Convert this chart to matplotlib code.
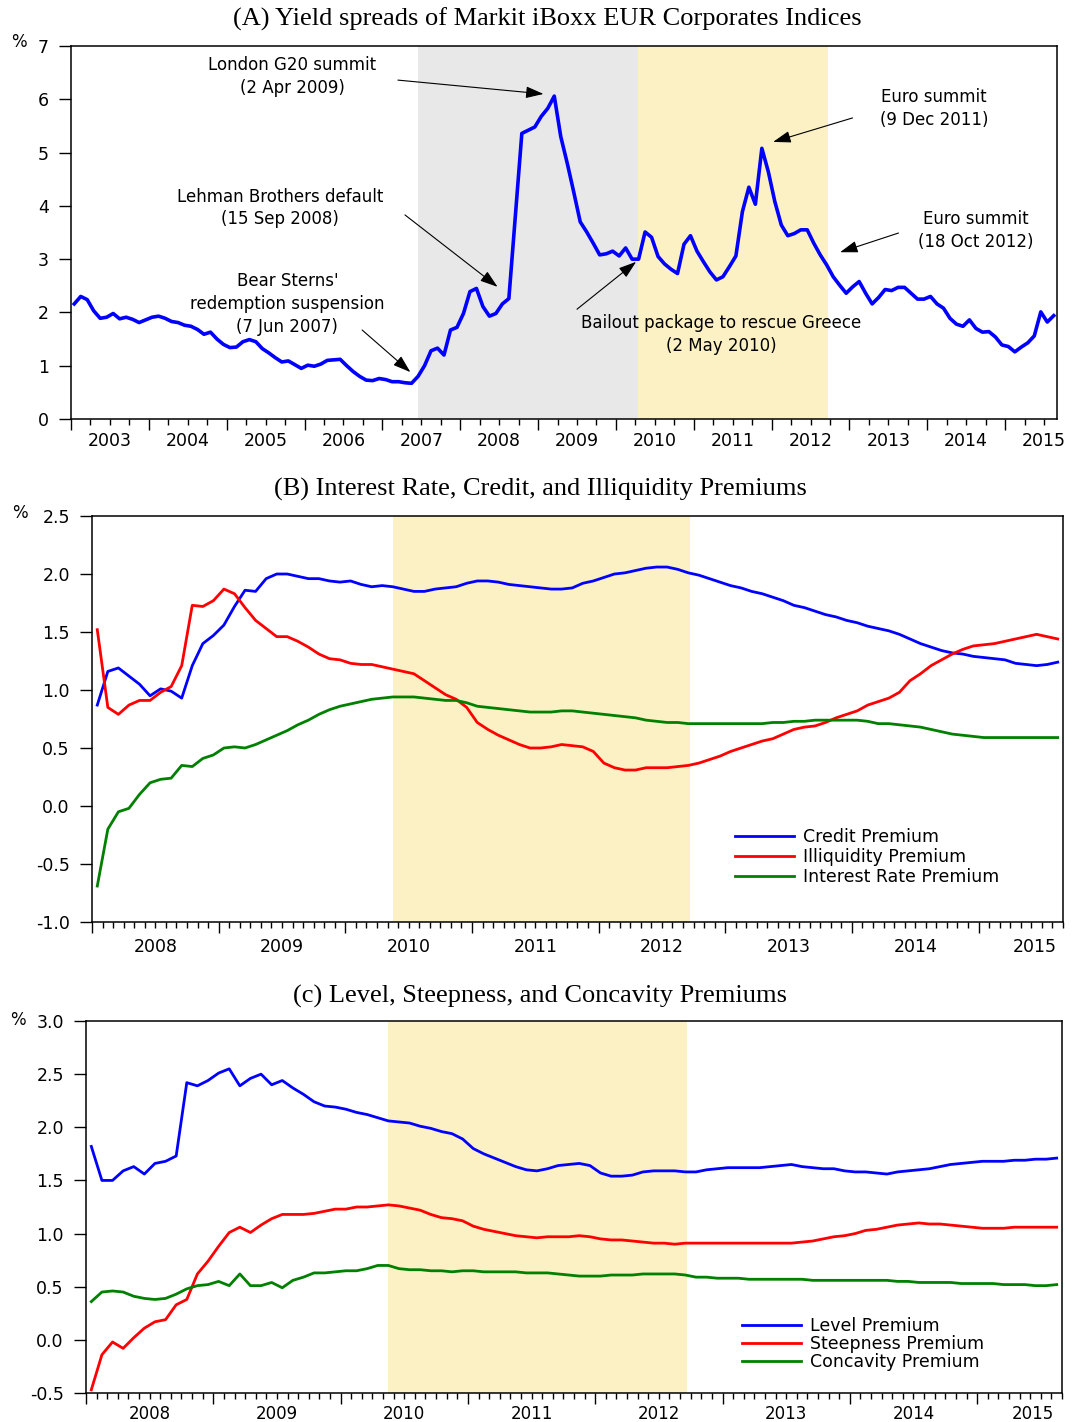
import numpy as np
import pandas as pd
import matplotlib.pyplot as plt
from matplotlib.ticker import FormatStrFormatter

plt.rcParams["font.family"] = "DejaVu Sans"
plt.rcParams["axes.unicode_minus"] = False

# ---- data (monthly) ----
months_a = pd.period_range("2003-01", "2015-08", freq="M")
spread = [2.16, 2.30, 2.24, 2.03, 1.89, 1.91, 1.98, 1.88, 1.91, 1.87, 1.81, 1.86,
          1.91, 1.93, 1.89, 1.83, 1.81, 1.76, 1.74, 1.68, 1.59, 1.63, 1.50, 1.40,
          1.34, 1.35, 1.45, 1.49, 1.45, 1.32, 1.24, 1.15, 1.07, 1.09, 1.02, 0.95,
          1.01, 0.99, 1.03, 1.10, 1.11, 1.12, 1.00, 0.89, 0.80, 0.73, 0.72, 0.76,
          0.74, 0.70, 0.70, 0.68, 0.67, 0.80, 1.00, 1.28, 1.33, 1.20, 1.67, 1.72,
          1.98, 2.39, 2.45, 2.11, 1.93, 1.98, 2.16, 2.26, 3.80, 5.36, 5.42, 5.48,
          5.68, 5.83, 6.06, 5.30, 4.80, 4.26, 3.70, 3.51, 3.30, 3.08, 3.10, 3.15,
          3.06, 3.21, 3.00, 3.00, 3.51, 3.41, 3.05, 2.91, 2.81, 2.73, 3.28, 3.44,
          3.15, 2.95, 2.76, 2.61, 2.67, 2.86, 3.06, 3.89, 4.35, 4.03, 5.08, 4.64,
          4.08, 3.64, 3.44, 3.48, 3.55, 3.55, 3.30, 3.08, 2.89, 2.67, 2.51, 2.36,
          2.48, 2.58, 2.36, 2.16, 2.28, 2.43, 2.41, 2.47, 2.47, 2.36, 2.25, 2.25,
          2.30, 2.16, 2.08, 1.89, 1.78, 1.74, 1.86, 1.70, 1.63, 1.64, 1.54, 1.39,
          1.36, 1.26, 1.35, 1.43, 1.56, 2.01, 1.82, 1.94]

months_b = pd.period_range("2008-01", "2015-08", freq="M")
credit = [0.87, 1.16, 1.19, 1.12, 1.05, 0.95, 1.01, 0.99, 0.93, 1.21, 1.40, 1.47,
          1.56, 1.72, 1.86, 1.85, 1.96, 2.00, 2.00, 1.98, 1.96, 1.96, 1.94, 1.93,
          1.94, 1.91, 1.89, 1.90, 1.89, 1.87, 1.85, 1.85, 1.87, 1.88, 1.89, 1.92,
          1.94, 1.94, 1.93, 1.91, 1.90, 1.89, 1.88, 1.87, 1.87, 1.88, 1.92, 1.94,
          1.97, 2.00, 2.01, 2.03, 2.05, 2.06, 2.06, 2.04, 2.01, 1.99, 1.96, 1.93,
          1.90, 1.88, 1.85, 1.83, 1.80, 1.77, 1.73, 1.71, 1.68, 1.65, 1.63, 1.60,
          1.58, 1.55, 1.53, 1.51, 1.48, 1.44, 1.40, 1.37, 1.34, 1.32, 1.31, 1.29,
          1.28, 1.27, 1.26, 1.23, 1.22, 1.21, 1.22, 1.24]
illiquidity = [1.52, 0.85, 0.79, 0.87, 0.91, 0.91, 0.98, 1.03, 1.21, 1.73, 1.72, 1.77,
               1.87, 1.83, 1.71, 1.60, 1.53, 1.46, 1.46, 1.42, 1.37, 1.31, 1.27, 1.26,
               1.23, 1.22, 1.22, 1.20, 1.18, 1.16, 1.14, 1.08, 1.02, 0.96, 0.92, 0.85,
               0.72, 0.66, 0.61, 0.57, 0.53, 0.50, 0.50, 0.51, 0.53, 0.52, 0.51, 0.47,
               0.37, 0.33, 0.31, 0.31, 0.33, 0.33, 0.33, 0.34, 0.35, 0.37, 0.40, 0.43,
               0.47, 0.50, 0.53, 0.56, 0.58, 0.62, 0.66, 0.68, 0.69, 0.72, 0.76, 0.79,
               0.82, 0.87, 0.90, 0.93, 0.98, 1.08, 1.14, 1.21, 1.26, 1.31, 1.35, 1.38,
               1.39, 1.40, 1.42, 1.44, 1.46, 1.48, 1.46, 1.44]
interest = [-0.69, -0.20, -0.05, -0.02, 0.10, 0.20, 0.23, 0.24, 0.35, 0.34, 0.41, 0.44,
            0.50, 0.51, 0.50, 0.53, 0.57, 0.61, 0.65, 0.70, 0.74, 0.79, 0.83, 0.86,
            0.88, 0.90, 0.92, 0.93, 0.94, 0.94, 0.94, 0.93, 0.92, 0.91, 0.91, 0.89,
            0.86, 0.85, 0.84, 0.83, 0.82, 0.81, 0.81, 0.81, 0.82, 0.82, 0.81, 0.80,
            0.79, 0.78, 0.77, 0.76, 0.74, 0.73, 0.72, 0.72, 0.71, 0.71, 0.71, 0.71,
            0.71, 0.71, 0.71, 0.71, 0.72, 0.72, 0.73, 0.73, 0.74, 0.74, 0.74, 0.74,
            0.74, 0.73, 0.71, 0.71, 0.70, 0.69, 0.68, 0.66, 0.64, 0.62, 0.61, 0.60,
            0.59, 0.59, 0.59, 0.59, 0.59, 0.59, 0.59, 0.59]

level = [1.82, 1.50, 1.50, 1.59, 1.63, 1.56, 1.66, 1.68, 1.73, 2.42, 2.39, 2.44,
         2.51, 2.55, 2.39, 2.46, 2.50, 2.40, 2.44, 2.37, 2.31, 2.24, 2.20, 2.19,
         2.17, 2.14, 2.12, 2.09, 2.06, 2.05, 2.04, 2.01, 1.99, 1.96, 1.94, 1.89,
         1.80, 1.75, 1.71, 1.67, 1.63, 1.60, 1.59, 1.61, 1.64, 1.65, 1.66, 1.64,
         1.57, 1.54, 1.54, 1.55, 1.58, 1.59, 1.59, 1.59, 1.58, 1.58, 1.60, 1.61,
         1.62, 1.62, 1.62, 1.62, 1.63, 1.64, 1.65, 1.63, 1.62, 1.61, 1.61, 1.59,
         1.58, 1.58, 1.57, 1.56, 1.58, 1.59, 1.60, 1.61, 1.63, 1.65, 1.66, 1.67,
         1.68, 1.68, 1.68, 1.69, 1.69, 1.70, 1.70, 1.71]
steepness = [-0.47, -0.14, -0.02, -0.08, 0.02, 0.11, 0.17, 0.19, 0.33, 0.38, 0.62, 0.74,
             0.88, 1.01, 1.06, 1.01, 1.08, 1.14, 1.18, 1.18, 1.18, 1.19, 1.21, 1.23,
             1.23, 1.25, 1.25, 1.26, 1.27, 1.26, 1.24, 1.22, 1.18, 1.15, 1.14, 1.12,
             1.07, 1.04, 1.02, 1.00, 0.98, 0.97, 0.96, 0.97, 0.97, 0.97, 0.98, 0.97,
             0.95, 0.94, 0.94, 0.93, 0.92, 0.91, 0.91, 0.90, 0.91, 0.91, 0.91, 0.91,
             0.91, 0.91, 0.91, 0.91, 0.91, 0.91, 0.91, 0.92, 0.93, 0.95, 0.97, 0.98,
             1.00, 1.03, 1.04, 1.06, 1.08, 1.09, 1.10, 1.09, 1.09, 1.08, 1.07, 1.06,
             1.05, 1.05, 1.05, 1.06, 1.06, 1.06, 1.06, 1.06]
concavity = [0.36, 0.45, 0.46, 0.45, 0.41, 0.39, 0.38, 0.39, 0.43, 0.48, 0.51, 0.52,
             0.55, 0.51, 0.62, 0.51, 0.51, 0.54, 0.49, 0.56, 0.59, 0.63, 0.63, 0.64,
             0.65, 0.65, 0.67, 0.70, 0.70, 0.67, 0.66, 0.66, 0.65, 0.65, 0.64, 0.65,
             0.65, 0.64, 0.64, 0.64, 0.64, 0.63, 0.63, 0.63, 0.62, 0.61, 0.60, 0.60,
             0.60, 0.61, 0.61, 0.61, 0.62, 0.62, 0.62, 0.62, 0.61, 0.59, 0.59, 0.58,
             0.58, 0.58, 0.57, 0.57, 0.57, 0.57, 0.57, 0.57, 0.56, 0.56, 0.56, 0.56,
             0.56, 0.56, 0.56, 0.56, 0.55, 0.55, 0.54, 0.54, 0.54, 0.54, 0.53, 0.53,
             0.53, 0.53, 0.52, 0.52, 0.52, 0.51, 0.51, 0.52]

# shaded periods (decimal years)
grey_a = (2007.46, 2010.29)
yellow_a = (2010.29, 2012.73)
yellow_bc = (2010.375, 2012.72)

# annotations for panel A: text, text pos, arrow tail, arrow head
events = [
    ("London G20 summit\n(2 Apr 2009)", (2005.84, 6.43), (2007.20, 6.36), (2009.07, 6.10)),
    ("Euro summit\n(9 Dec 2011)", (2014.09, 5.83), (2013.04, 5.65), (2012.02, 5.20)),
    ("Lehman Brothers default\n(15 Sep 2008)", (2005.69, 3.96), (2007.29, 3.83), (2008.48, 2.48)),
    ("Euro summit\n(18 Oct 2012)", (2014.62, 3.53), (2013.63, 3.49), (2012.88, 3.13)),
    ("Bear Sterns'\nredemption suspension\n(7 Jun 2007)", (2005.78, 2.16), (2006.74, 1.67), (2007.36, 0.88)),
    ("Bailout package to rescue Greece\n(2 May 2010)", (2011.35, 1.59), (2009.50, 2.06), (2010.26, 2.95)),
]

BLUE, RED, GREEN = "#0000FF", "#FF0000", "#008000"


def dec_year(periods):
    return np.array([p.year + (p.month - 0.5) / 12 for p in periods])


W, H = 1074, 1422
fig = plt.figure(figsize=(W / 100, H / 100), dpi=100)


def add_ax(l, t, r, b):
    return fig.add_axes([l / W, 1 - b / H, (r - l) / W, (b - t) / H])


def style(ax, x0, n_months, ylim, ystep, fmt, minor, lab_off, last_shift=0.0, labsize=12.5):
    x1 = x0 + n_months / 12
    ax.set_xlim(x0, x1)
    ax.set_ylim(*ylim)
    ax.set_yticks(np.arange(ylim[0], ylim[1] + 1e-9, ystep))
    ax.yaxis.set_major_formatter(FormatStrFormatter(fmt))
    years = np.arange(x0, x1)
    ax.set_xticks(years)
    ax.set_xticks(np.arange(x0, x1, minor), minor=True)
    ax.tick_params(axis="x", which="major", direction="out", length=8, width=1.0,
                   labelbottom=False)
    ax.tick_params(axis="x", which="minor", direction="out", length=4, width=1.0)
    ax.tick_params(axis="y", direction="out", length=9, width=1.0, pad=7, labelsize=12.5)
    for s in ax.spines.values():
        s.set_linewidth(1.1)
    for i, y in enumerate(years):
        xpos = y + 0.5 - (last_shift if i == len(years) - 1 else 0)
        ax.annotate(str(int(y)), (xpos, 0), xycoords=("data", "axes fraction"),
                    xytext=(0, -lab_off), textcoords="offset points",
                    ha="center", va="top", fontsize=labsize)


# ---- panel A ----
axA = add_ax(71, 46, 1057, 419)
axA.axvspan(*grey_a, color="#E8E8E8", lw=0)
axA.axvspan(*yellow_a, color="#FCF1C4", lw=0)
axA.plot(dec_year(months_a), spread, color=BLUE, lw=2.6)
style(axA, 2003, len(months_a), (0, 7), 1, "%d", 0.25, 9.5)
for txt, tpos, tail, head in events:
    axA.text(*tpos, txt, ha="center", va="center", fontsize=12, linespacing=1.35)
    axA.annotate("", xy=head, xytext=tail,
                 arrowprops=dict(arrowstyle="-|>,head_length=0.9,head_width=0.3",
                                 color="black", lw=0.8, shrinkA=0, shrinkB=0,
                                 mutation_scale=12))

# ---- panel B ----
axB = add_ax(92, 516, 1063, 922)
axB.axvspan(*yellow_bc, color="#FCF1C4", lw=0)
xb = dec_year(months_b)
axB.plot(xb, credit, color=BLUE, lw=2.0, label="Credit Premium")
axB.plot(xb, illiquidity, color=RED, lw=2.0, label="Illiquidity Premium")
axB.plot(xb, interest, color=GREEN, lw=2.0, label="Interest Rate Premium")
style(axB, 2008, len(months_b), (-1.0, 2.5), 0.5, "%.1f", 1 / 12, 11.5, last_shift=0.06)
axB.legend(loc="upper left", bbox_to_anchor=(0.662, 0.232), frameon=False, fontsize=12.5,
           handlelength=3.4, handletextpad=0.55, labelspacing=0.12, borderpad=0,
           borderaxespad=0)

# ---- panel C ----
axC = add_ax(86, 1021, 1062, 1393)
axC.axvspan(*yellow_bc, color="#FCF1C4", lw=0)
axC.plot(xb, level, color=BLUE, lw=2.0, label="Level Premium")
axC.plot(xb, steepness, color=RED, lw=2.0, label="Steepness Premium")
axC.plot(xb, concavity, color=GREEN, lw=2.0, label="Concavity Premium")
style(axC, 2008, len(months_b), (-0.5, 3.0), 0.5, "%.1f", 1 / 12, 8.5, last_shift=0.06,
      labsize=12)
axC.legend(loc="upper left", bbox_to_anchor=(0.672, 0.205), frameon=False, fontsize=12.5,
           handlelength=3.4, handletextpad=0.55, labelspacing=0.0, borderpad=0,
           borderaxespad=0)

# ---- titles and % labels ----
serif = "Liberation Serif"
fig.text(547 / W, 1 - 19 / H, "(A) Yield spreads of Markit iBoxx EUR Corporates Indices",
         ha="center", va="center", fontsize=19, family=serif)
fig.text(540 / W, 1 - 489 / H, "(B) Interest Rate, Credit, and Illiquidity Premiums",
         ha="center", va="center", fontsize=19, family=serif)
fig.text(540 / W, 1 - 996 / H, "(c) Level, Steepness, and Concavity Premiums",
         ha="center", va="center", fontsize=19, family=serif)
for x, y in [(19, 42), (20, 513), (18, 1020)]:
    fig.text(x / W, 1 - y / H, "%", ha="center", va="center", fontsize=12)

fig.savefig("out.png", dpi=100)
